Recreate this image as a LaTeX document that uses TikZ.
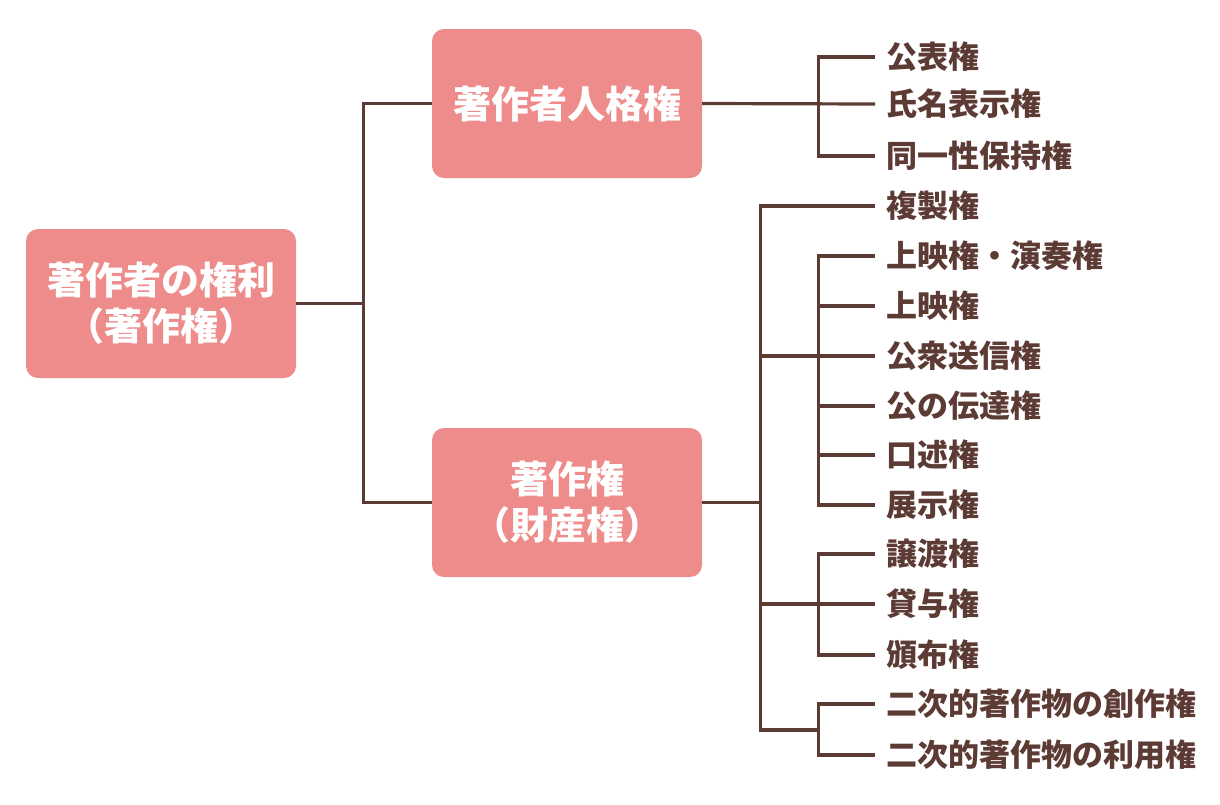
\documentclass[tikz,border=0pt]{standalone}
\usepackage{fontspec}
\setmainfont{Noto Sans CJK JP}
\definecolor{boxpink}{HTML}{EE8B8B}
\definecolor{linebrown}{HTML}{5D3B35}
\begin{document}
\begin{tikzpicture}[x=1pt,y=-1pt,
  box/.style={fill=boxpink, rounded corners=12pt, minimum width=270pt, minimum height=149pt,
    text=white, font=\fontsize{38}{46}\selectfont\bfseries, align=center, inner sep=0pt},
  lbl/.style={anchor=west, inner xsep=11pt, inner ysep=0pt, text=linebrown,
    font=\fontsize{31}{31}\selectfont\bfseries},
  conn/.style={draw=linebrown, line width=3.2pt}]
\useasboundingbox (0,0) rectangle (1220,804);
\node[box] (root) at (161,303.5) {著作者の権利\\（著作権）};
\node[box] (moral) at (567,103.5) {著作者人格権};
\node[box] (econ) at (567,502.5) {著作権\\（財産権）};
% moral rights labels
\node[lbl] (m1) at (875,57) {公表権};
\node[lbl] (m2) at (875,104) {氏名表示権};
\node[lbl] (m3) at (875,156) {同一性保持権};
% economic rights labels
\node[lbl] (b1) at (875,206) {複製権};
\node[lbl] (b2) at (875,256) {上映権・演奏権};
\node[lbl] (b3) at (875,306) {上映権};
\node[lbl] (b4) at (875,356) {公衆送信権};
\node[lbl] (b5) at (875,406) {公の伝達権};
\node[lbl] (b6) at (875,455) {口述権};
\node[lbl] (b7) at (875,505) {展示権};
\node[lbl] (b8) at (875,554) {譲渡権};
\node[lbl] (b9) at (875,604) {貸与権};
\node[lbl] (b10) at (875,655) {頒布権};
\node[lbl] (b11) at (875,704) {二次的著作物の創作権};
\node[lbl] (b12) at (875,755) {二次的著作物の利用権};
% junction columns
\coordinate (r) at (363.5,0);
\coordinate (e) at (760.5,0);
\coordinate (s) at (818.5,0);
\coordinate (gc) at (818.5,730);
% root connectors
\draw[conn] (root.east) -- (root.east -| r);
\draw[conn] (moral.west) -- (moral.west -| r) -- (econ.west -| r) -- (econ.west);
% moral rights
\draw[conn] (moral.east) -- (m2.west);
\draw[conn] (m1.west) -- (m1.west -| s) -- (m3.west -| s) -- (m3.west);
% economic rights
\draw[conn] (econ.east) -- (econ.east -| e);
\draw[conn] (b1.west) -- (b1.west -| e) -- (gc -| e) -- (gc);
\draw[conn] (b4.west -| e) -- (b4.west);
\draw[conn] (b2.west) -- (b2.west -| s) -- (b7.west -| s) -- (b7.west);
\foreach \n in {b3,b5,b6} \draw[conn] (\n.west -| s) -- (\n.west);
\draw[conn] (b9.west -| e) -- (b9.west);
\draw[conn] (b8.west) -- (b8.west -| s) -- (b10.west -| s) -- (b10.west);
\draw[conn] (b11.west) -- (b11.west -| s) -- (b12.west -| s) -- (b12.west);
\end{tikzpicture}
\end{document}
